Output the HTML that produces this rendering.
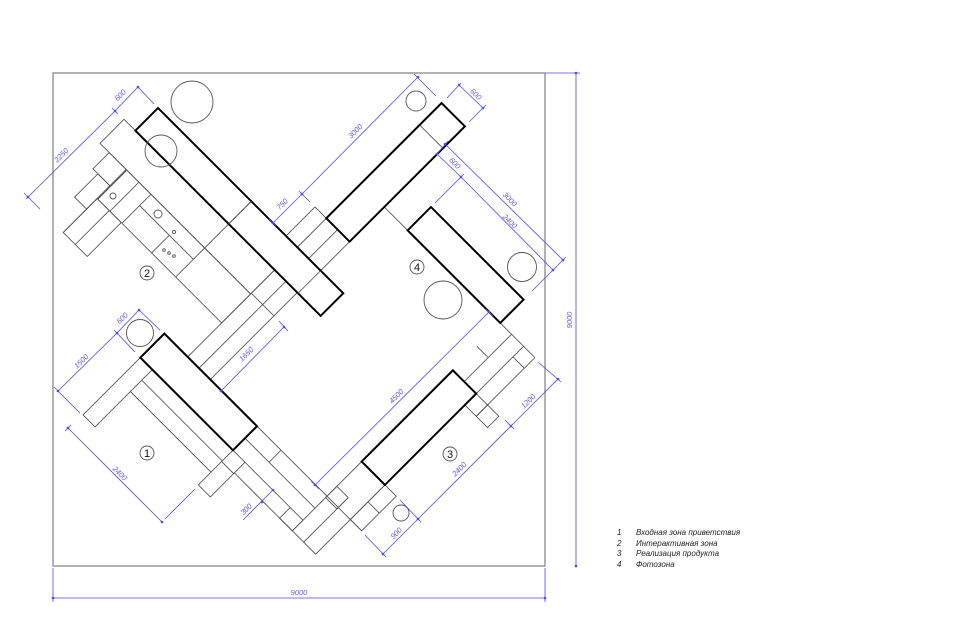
<!DOCTYPE html>
<html><head><meta charset="utf-8"><style>
html,body{margin:0;padding:0;background:#fff;}
svg{display:block;}
.t{stroke:#444;stroke-width:0.8;fill:none;}
.k{stroke:#000;stroke-width:2;fill:#fff;}
.c{stroke:#555;stroke-width:0.9;fill:none;}
.d{stroke:#4a4aff;stroke-width:0.8;fill:none;}
.dt{fill:#5a5aff;font-family:"Liberation Sans",sans-serif;font-style:italic;font-size:7.5px;}
.lg{fill:#222;font-family:"Liberation Sans","Noto Sans CJK JP",sans-serif;font-style:italic;font-size:8px;}
.num{font-family:"Liberation Sans",sans-serif;font-size:11px;fill:#111;}
</style></head><body>
<svg width="960" height="640" viewBox="0 0 960 640" xmlns="http://www.w3.org/2000/svg">
<rect x="53" y="73" width="492" height="493" fill="none" stroke="#999" stroke-width="1.5"/>

<g transform="translate(158,108) rotate(45)">
 <!-- zone 2 thin -->
 <rect class="t" x="-16" y="32" width="213" height="34"/>
 <rect class="t" x="22" y="66" width="175" height="41"/>
 <line class="t" x1="132" y1="0" x2="132" y2="107"/>
 <line class="t" x1="39" y1="66" x2="39" y2="107"/>
 <line class="t" x1="56" y1="66" x2="56" y2="107"/>
 <line class="t" x1="56" y1="82" x2="132" y2="82"/>
 <line class="t" x1="98" y1="82" x2="98" y2="107"/>
 <rect class="t" x="-3" y="66" width="24" height="23"/>
 <rect class="t" x="4" y="89" width="17" height="33"/>
 <rect class="t" x="21" y="107" width="34" height="48"/>
 <line class="t" x1="21" y1="66" x2="21" y2="155"/>
 <line class="t" x1="38" y1="107" x2="38" y2="155"/>
 <!-- top stair -->
 <rect class="t" x="181" y="-41" width="49" height="41"/>
 <line class="t" x1="197" y1="-41" x2="197" y2="0"/>
 <line class="t" x1="213" y1="-41" x2="213" y2="0"/>
 <!-- stair under A -->
 <rect class="t" x="197" y="32" width="32" height="123"/>
 <line class="t" x1="213" y1="32" x2="213" y2="155"/>
 <line class="t" x1="197" y1="65" x2="229" y2="65"/>
 <line class="t" x1="230" y1="-90" x2="263" y2="-90"/>
 <line class="t" x1="197" y1="-173" x2="230" y2="-173"/>
 <!-- zone 1 -->
 <rect class="t" x="164" y="189" width="17" height="81"/>
 <line class="t" x1="181" y1="204" x2="295" y2="204"/>
 <line class="t" x1="181" y1="220" x2="295" y2="220"/>
 <rect class="t" x="295" y="189" width="17" height="49"/>
 <line class="t" x1="295" y1="205" x2="312" y2="205"/>
 <line class="t" x1="295" y1="155" x2="394" y2="155"/>
 <line class="t" x1="295" y1="172" x2="394" y2="172"/>
 <line class="t" x1="329" y1="155" x2="329" y2="172"/>
 <line class="t" x1="312" y1="189" x2="376" y2="189"/>
 <rect class="t" x="376" y="189" width="18" height="15"/>
 <line class="t" x1="312" y1="204" x2="427" y2="204"/>
 <line class="t" x1="394" y1="106" x2="394" y2="204"/>
 <line class="t" x1="410" y1="141" x2="410" y2="204"/>
 <line class="t" x1="427" y1="106" x2="427" y2="204"/>
 <rect class="t" x="394" y="141" width="16" height="16"/>
 <rect class="t" x="427" y="106" width="16" height="49"/>
 <line class="t" x1="427" y1="130" x2="443" y2="130"/>
 <line class="t" x1="394" y1="155" x2="443" y2="155"/>
 <!-- zone 3 upper -->
 <line class="t" x1="394" y1="-90" x2="443" y2="-90"/>
 <line class="t" x1="410" y1="-90" x2="410" y2="-23"/>
 <line class="t" x1="427" y1="-90" x2="427" y2="-23"/>
 <line class="t" x1="443" y1="-90" x2="443" y2="-7"/>
 <line class="t" x1="394" y1="-57" x2="410" y2="-57"/>
 <line class="t" x1="427" y1="-75" x2="443" y2="-75"/>
 <rect class="t" x="427" y="-23" width="32" height="16"/>
 <line class="t" x1="443" y1="-23" x2="443" y2="-7"/>
 <!-- thick bars -->
 <rect class="k" x="0" y="0" width="262" height="32" fill="none" style="fill:none"/>
 <line class="t" x1="132" y1="0" x2="132" y2="32"/>
 <line class="t" x1="230" y1="0" x2="230" y2="32"/>
 <rect class="k" x="197" y="-204" width="33" height="163" style="fill:none"/>
 <rect class="k" x="263" y="-123" width="131" height="33" style="fill:none"/>
 <rect class="k" x="164" y="155" width="131" height="34" style="fill:none"/>
 <rect class="k" x="394" y="-23" width="33" height="129" style="fill:none"/>
</g>

<!-- circles -->
<circle class="c" cx="192" cy="102" r="21"/>
<circle class="c" cx="161" cy="151" r="16"/>
<circle class="c" cx="416" cy="101" r="10"/>
<circle class="c" cx="522" cy="267" r="14.5"/>
<circle class="c" cx="443" cy="300" r="19"/>
<circle class="c" cx="140" cy="333" r="13.5"/>
<circle class="c" cx="401" cy="513" r="8"/>
<circle class="c" cx="113" cy="196" r="3"/>
<circle class="c" cx="158" cy="214" r="4"/>
<circle class="c" cx="174" cy="232" r="1.6"/>
<circle class="c" cx="164" cy="250" r="1.3"/>
<circle class="c" cx="169" cy="253" r="1.3"/>
<circle class="c" cx="174" cy="256" r="1.3"/>

<!-- zone numbers -->
<circle class="c" cx="147" cy="273" r="7"/><text class="num" x="147" y="277" text-anchor="middle">2</text>
<circle class="c" cx="417" cy="267" r="7"/><text class="num" x="417" y="271" text-anchor="middle">4</text>
<circle class="c" cx="147" cy="453" r="7"/><text class="num" x="147" y="457" text-anchor="middle">1</text>
<circle class="c" cx="450" cy="454" r="7"/><text class="num" x="450" y="458" text-anchor="middle">3</text>

<!-- dimension lines -->
<g class="d">
 <line x1="115" y1="111" x2="138" y2="87"/><line x1="138" y1="87" x2="154" y2="104"/>
 <line x1="115" y1="111" x2="26" y2="199"/><line x1="24" y1="193" x2="40" y2="209"/><line x1="112" y1="108" x2="118" y2="114"/>
 <line x1="302" y1="194" x2="418" y2="77"/><line x1="414" y1="74" x2="436" y2="96"/>
 <line x1="273" y1="223" x2="302" y2="194"/><line x1="299" y1="191" x2="310" y2="202"/><line x1="269" y1="219" x2="276" y2="226"/>
 <line x1="459" y1="85" x2="483" y2="108"/><line x1="461" y1="83" x2="447" y2="98"/><line x1="486" y1="105" x2="469" y2="122"/>
 <line x1="437" y1="154" x2="461" y2="177"/><line x1="445" y1="144" x2="563" y2="260"/><line x1="461" y1="177" x2="553" y2="270"/>
 <line x1="448" y1="141" x2="437" y2="154"/><line x1="464" y1="174" x2="435" y2="203"/><line x1="566" y1="257" x2="532" y2="291"/>
 <line x1="315" y1="485" x2="489" y2="312"/><line x1="311" y1="481" x2="319" y2="489"/><line x1="486" y1="309" x2="493" y2="316"/>
 <line x1="558" y1="379" x2="511" y2="426"/><line x1="561" y1="382" x2="538" y2="362"/><line x1="514" y1="429" x2="505" y2="420"/>
 <line x1="511" y1="426" x2="418" y2="519"/>
 <line x1="418" y1="519" x2="383" y2="554"/><line x1="400" y1="500" x2="421" y2="522"/><line x1="365" y1="535" x2="386" y2="557"/>
 <line x1="284" y1="327" x2="221" y2="391"/><line x1="279" y1="321" x2="288" y2="331"/>
 <line x1="58" y1="391" x2="117" y2="333"/><line x1="54" y1="387" x2="80" y2="413"/>
 <line x1="117" y1="333" x2="139" y2="310"/><line x1="139" y1="310" x2="160" y2="330"/><line x1="114" y1="330" x2="135" y2="352"/>
 <line x1="68" y1="428" x2="162" y2="522"/><line x1="165" y1="519" x2="195" y2="489"/><line x1="71" y1="425" x2="65" y2="431"/>
 <line x1="273" y1="490" x2="243" y2="520"/>
 <line x1="576" y1="73" x2="576" y2="566"/><line x1="545" y1="73" x2="580" y2="73"/>
 <line x1="53" y1="598" x2="545" y2="598"/><line x1="53" y1="568" x2="53" y2="602"/><line x1="545" y1="568" x2="545" y2="602"/>
</g>
<g fill="#4a4aff">
 <circle cx="115" cy="111" r="1.3"/><circle cx="138" cy="87" r="1.3"/><circle cx="28" cy="197" r="1.3"/>
 <circle cx="302" cy="194" r="1.3"/><circle cx="418" cy="77" r="1.3"/><circle cx="273" cy="223" r="1.3"/>
 <circle cx="459" cy="85" r="1.3"/><circle cx="483" cy="108" r="1.3"/>
 <circle cx="437" cy="154" r="1.3"/><circle cx="445" cy="144" r="1.3"/><circle cx="461" cy="177" r="1.3"/><circle cx="563" cy="260" r="1.3"/><circle cx="553" cy="270" r="1.3"/>
 <circle cx="315" cy="485" r="1.3"/><circle cx="489" cy="312" r="1.3"/><circle cx="558" cy="379" r="1.3"/><circle cx="511" cy="426" r="1.3"/>
 <circle cx="418" cy="519" r="1.3"/><circle cx="383" cy="554" r="1.3"/><circle cx="284" cy="327" r="1.3"/><circle cx="221" cy="391" r="1.3"/>
 <circle cx="58" cy="391" r="1.3"/><circle cx="117" cy="333" r="1.3"/><circle cx="139" cy="310" r="1.3"/><circle cx="68" cy="428" r="1.3"/><circle cx="162" cy="522" r="1.3"/>
 <circle cx="273" cy="490" r="1.3"/><circle cx="262" cy="502" r="1.3"/>
 <circle cx="576" cy="73" r="1.3"/><circle cx="576" cy="566" r="1.3"/><circle cx="53" cy="598" r="1.3"/><circle cx="545" cy="598" r="1.3"/>
</g>

<!-- dimension text -->
<g class="dt" text-anchor="middle">
 <text transform="translate(122,97) rotate(-45)">600</text>
 <text transform="translate(63,157) rotate(-45)">2250</text>
 <text transform="translate(284,206) rotate(-45)">750</text>
 <text transform="translate(357,133) rotate(-45)">3000</text>
 <text transform="translate(474,96) rotate(45)">600</text>
 <text transform="translate(453,165) rotate(45)">600</text>
 <text transform="translate(508,201) rotate(45)">3000</text>
 <text transform="translate(508,223) rotate(45)">2400</text>
 <text transform="translate(398,398) rotate(-45)">4500</text>
 <text transform="translate(530,403) rotate(-45)">1200</text>
 <text transform="translate(461,471) rotate(-45)">2400</text>
 <text transform="translate(398,535) rotate(-45)">900</text>
 <text transform="translate(248,356) rotate(-45)">1650</text>
 <text transform="translate(83,363) rotate(-45)">1500</text>
 <text transform="translate(124,320) rotate(-45)">600</text>
 <text transform="translate(118,475) rotate(45)">2400</text>
 <text transform="translate(248,511) rotate(-45)">300</text>
 <text transform="translate(572,320) rotate(-90)">9000</text>
 <text x="299" y="595">9000</text>
</g>

<!-- legend -->
<g class="lg">
 <text x="617" y="535">1</text><text x="636" y="535">Входная зона приветствия</text>
 <text x="617" y="546">2</text><text x="636" y="546">Интерактивная зона</text>
 <text x="617" y="556">3</text><text x="636" y="556">Реализация продукта</text>
 <text x="617" y="567">4</text><text x="636" y="567">Фотозона</text>
</g>
</svg>
</body></html>
